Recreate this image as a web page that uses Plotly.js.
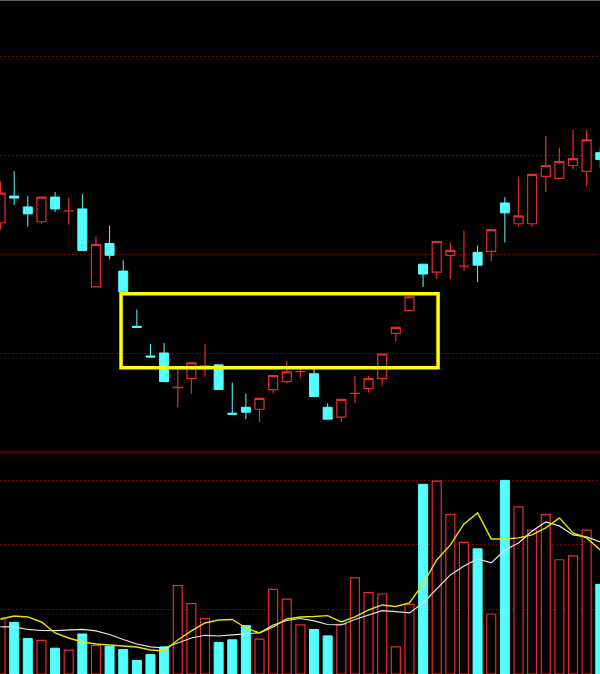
<!DOCTYPE html>
<html>
<head>
<meta charset="utf-8">
<script src="https://cdn.plot.ly/plotly-3.0.1.min.js"></script>
<style>html,body{margin:0;padding:0;background:#000;}#chart{width:600px;height:674px;}</style>
</head>
<body>
<div id="chart"></div>
<script>
// ---- data ----
const idx = [0,1,2,3,4,5,6,7,8,9,10,11,12,13,14,15,16,17,18,19,20,21,22,23,24,25,26,27,28,29,30,31,32,33,34,35,36,37,38,39,40,41,42,43,44];
const openP  = [11.32,11.59,11.48,11.33,11.58,11.44,11.46,10.67,11.11,10.83,10.27,9.97,10.00,9.65,9.74,9.87,9.88,9.39,9.45,9.43,9.63,9.71,9.81,9.79,9.45,9.35,9.59,9.64,9.74,10.20,10.43,10.90,10.82,10.99,10.88,11.02,11.03,11.52,11.31,11.31,11.79,11.77,11.90,11.84,12.03];
const highP  = [11.74,11.84,11.59,11.58,11.63,11.57,11.61,11.18,11.29,10.94,10.44,10.09,10.10,9.85,9.90,10.09,9.88,9.70,9.59,9.54,9.77,9.92,9.86,9.85,9.49,9.53,9.77,9.77,9.99,10.26,10.57,10.90,11.13,11.12,11.24,11.09,11.25,11.58,11.78,11.81,12.20,12.08,12.26,12.26,12.08];
const lowP   = [11.25,11.50,11.28,11.31,11.43,11.30,11.04,10.67,10.95,10.62,10.26,9.96,9.71,9.45,9.59,9.76,9.63,9.38,9.33,9.30,9.59,9.69,9.75,9.56,9.33,9.30,9.49,9.60,9.67,10.12,10.43,10.67,10.75,10.75,10.83,10.72,10.93,11.12,11.28,11.28,11.63,11.77,11.86,11.69,11.88];
const closeP = [11.62,11.57,11.41,11.58,11.46,11.441,11.04,11.10,10.99,10.62,10.26,9.96,9.71,9.651,9.90,9.871,9.63,9.38,9.40,9.54,9.77,9.81,9.811,9.56,9.33,9.53,9.591,9.74,9.99,10.26,10.57,10.80,11.13,11.04,10.881,10.89,11.25,11.42,11.39,11.81,11.90,11.94,11.97,12.16,11.96];
const volume = [0.85,0.80,0.55,0.52,0.40,0.37,0.62,0.44,0.43,0.38,0.21,0.30,0.42,1.37,1.09,0.86,0.49,0.53,0.75,0.54,1.31,1.16,0.76,0.69,0.59,0.77,1.49,1.26,1.24,0.42,1.08,2.94,2.99,2.47,2.04,1.94,0.93,3.00,2.59,2.23,2.47,1.77,1.83,2.23,1.39];
const volMA5  = [0.853,0.899,0.884,0.806,0.636,0.558,0.496,0.465,0.450,0.434,0.419,0.372,0.357,0.527,0.667,0.791,0.837,0.845,0.713,0.636,0.729,0.853,0.884,0.891,0.904,0.806,0.884,0.992,1.070,1.047,1.101,1.395,1.767,2.000,2.326,2.496,2.093,2.093,2.109,2.155,2.264,2.419,2.186,2.109,1.922];
const volMA10 = [0.729,0.729,0.690,0.674,0.671,0.682,0.690,0.667,0.612,0.535,0.465,0.419,0.403,0.481,0.558,0.600,0.589,0.605,0.628,0.640,0.760,0.829,0.860,0.822,0.767,0.760,0.845,0.915,0.981,0.966,0.946,1.101,1.318,1.535,1.674,1.783,1.721,1.922,2.031,2.217,2.357,2.295,2.155,2.124,2.047];
const priceGrid = [10,11,12,13];
const volGrid = [1,2,3];
// highlighted zone (annotation box)
const boxX = [8.84, 32.1];
const boxY = [9.85, 10.6];

// ---- styles ----
const RED = '#E42C2C';
const CYAN = '#54FFFF';

const upX = [], upV = [], dnX = [], dnV = [];
idx.forEach((i, k) => {
  if (closeP[k] >= openP[k]) { upX.push(i); upV.push(volume[k]); }
  else { dnX.push(i); dnV.push(volume[k]); }
});

const traces = [
  {
    type: 'candlestick', x: idx, open: openP, high: highP, low: lowP, close: closeP,
    xaxis: 'x', yaxis: 'y', hoverinfo: 'skip', whiskerwidth: 0,
    increasing: {line: {color: RED, width: 1.2}, fillcolor: '#000000'},
    decreasing: {line: {color: CYAN, width: 1}, fillcolor: CYAN}
  },
  {
    type: 'bar', x: upX, y: upV, xaxis: 'x', yaxis: 'y2', width: 0.66, hoverinfo: 'skip',
    marker: {color: '#000000', line: {color: RED, width: 1.2}}
  },
  {
    type: 'bar', x: dnX, y: dnV, xaxis: 'x', yaxis: 'y2', width: 0.66, hoverinfo: 'skip',
    marker: {color: CYAN, line: {color: CYAN, width: 1}}
  },
  {
    type: 'scatter', mode: 'lines', x: idx, y: volMA10, xaxis: 'x', yaxis: 'y2', hoverinfo: 'skip',
    line: {color: '#E6E6E6', width: 1.2}
  },
  {
    type: 'scatter', mode: 'lines', x: idx, y: volMA5, xaxis: 'x', yaxis: 'y2', hoverinfo: 'skip',
    line: {color: '#E6E600', width: 1.4}
  }
];

const SPLIT = 222 / 674;

const layout = {
  width: 600, height: 674,
  margin: {l: 0, r: 0, t: 0, b: 0, pad: 0},
  paper_bgcolor: '#000000', plot_bgcolor: '#000000',
  showlegend: false,
  barmode: 'overlay',
  boxmode: 'overlay',
  boxgap: 0.34,
  boxgroupgap: 0,
  xaxis: {
    range: [-0.04, 43.98], showgrid: false, zeroline: false, showticklabels: false,
    ticks: '', showline: false, rangeslider: {visible: false}, fixedrange: true
  },
  yaxis: {
    domain: [SPLIT, 1], range: [8.997, 13.577], tickvals: priceGrid,
    showgrid: true, gridcolor: 'rgb(130,0,0)', gridwidth: 1, griddash: '2px,2px',
    zeroline: false, showticklabels: false, ticks: '', showline: false
  },
  yaxis2: {
    domain: [0, SPLIT], range: [0, 3.44], tickvals: volGrid,
    showgrid: true, gridcolor: 'rgb(130,0,0)', gridwidth: 1, griddash: '2px,2px',
    zeroline: false, showticklabels: false, ticks: '', showline: false
  },
  shapes: [
    {type: 'line', xref: 'paper', yref: 'paper', x0: 0, x1: 1, y0: SPLIT, y1: SPLIT,
     line: {color: 'rgb(170,0,0)', width: 1}},
    {type: 'line', xref: 'paper', yref: 'paper', x0: 0, x1: 1, y0: 1, y1: 1,
     line: {color: '#BBBBBB', width: 1}},
    {type: 'rect', xref: 'x', yref: 'y', x0: boxX[0], x1: boxX[1], y0: boxY[0], y1: boxY[1],
     line: {color: '#FFFF00', width: 3.5}, fillcolor: 'rgba(0,0,0,0)'}
  ]
};

Plotly.newPlot('chart', traces, layout, {displayModeBar: false, staticPlot: true});
</script>
</body>
</html>
